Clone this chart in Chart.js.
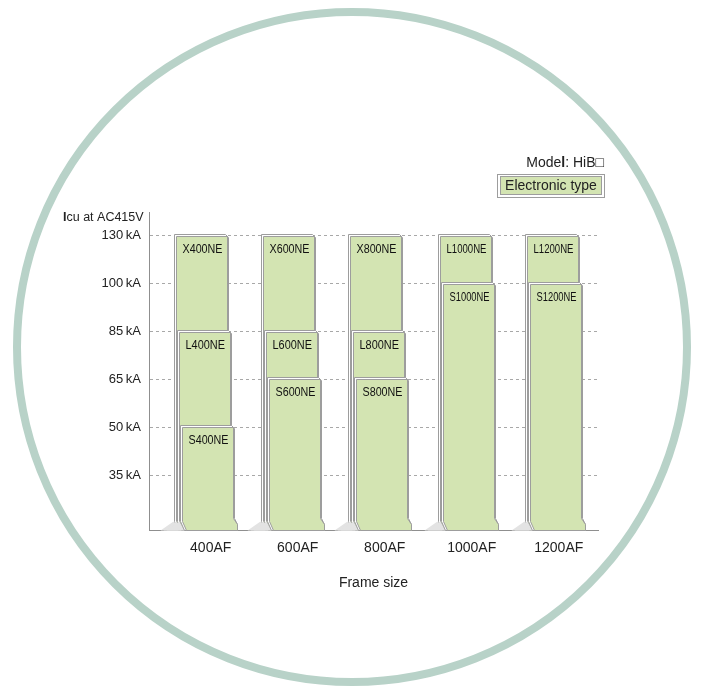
<!DOCTYPE html>
<html>
<head>
<meta charset="utf-8">
<script src="https://cdn.jsdelivr.net/npm/chart.js@4.4.1/dist/chart.umd.min.js"></script>
<style>
    html, body { margin: 0; padding: 0; background: #fff; }
    canvas { display: block; }
</style>
</head>
<body>
<canvas id="myChart" width="702" height="689"></canvas>
<script>
const frameSizes = ['400AF', '600AF', '800AF', '1000AF', '1200AF'];
const icuLevels = [35, 50, 65, 85, 100, 130];
const icuTickLabels = ['35\u2009kA', '50\u2009kA', '65\u2009kA', '85\u2009kA', '100\u2009kA', '130\u2009kA'];

// models per frame size, back card (X) to front card (S)
const xModels = ['X400NE', 'X600NE', 'X800NE', null, null];
const xIcu = [130, 130, 130, null, null];
const lModels = ['L400NE', 'L600NE', 'L800NE', 'L1000NE', 'L1200NE'];
const lIcu = [85, 85, 85, 130, 130];
const sModels = ['S400NE', 'S600NE', 'S800NE', 'S1000NE', 'S1200NE'];
const sIcu = [50, 65, 65, 100, 100];

const FONT = '"Liberation Sans", Arial, Helvetica, sans-serif';
const GREEN = '#d3e4b2';
const EDGE = '#9d9d9d';
const Y_MIN = -0.15;

Chart.defaults.font.family = FONT;
Chart.defaults.color = '#222';

// y axis is not proportional: each Icu level sits on its own step
function toLevel(v) {
    return v == null ? null : icuLevels.indexOf(v) + 1;
}
function points(vals) {
    return vals.map((v, i) => ({x: i, y: toLevel(v)}));
}

function drawCard(c, L, R, T, B, label) {
    c.save();
    // soft shadow at the foot
    c.fillStyle = '#e3e3e3';
    c.beginPath();
    c.moveTo(L - 16, B);
    c.lineTo(L - 3, B - 9);
    c.lineTo(L + 2, B);
    c.closePath();
    c.fill();

    c.lineWidth = 1;
    c.strokeStyle = EDGE;
    // sheet behind the face
    c.fillStyle = '#fff';
    c.beginPath();
    c.moveTo(L - 2, B - 9);
    c.lineTo(L - 2, T - 2);
    c.lineTo(R - 2, T - 2);
    c.lineTo(R + 1, T + 1);
    c.lineTo(R + 1, B - 12);
    c.lineTo(R + 4, B - 6);
    c.lineTo(R + 4, B);
    c.lineTo(L + 2, B);
    c.closePath();
    c.fill();
    c.stroke();

    // green face
    c.fillStyle = GREEN;
    c.beginPath();
    c.moveTo(L, T);
    c.lineTo(R, T);
    c.lineTo(R, B - 12);
    c.lineTo(R + 4, B - 6);
    c.lineTo(R + 4, B);
    c.lineTo(L + 4, B);
    c.lineTo(L, B - 9);
    c.closePath();
    c.fill();
    c.stroke();

    if (label) {
        c.translate(L + 6, T + 16);
        c.scale(0.84, 1);
        c.fillStyle = '#111';
        c.font = '13px ' + FONT;
        c.textAlign = 'left';
        c.textBaseline = 'alphabetic';
        c.fillText(label, 0, 0, (R - L - 11) / 0.84);
    }
    c.restore();
}

function textRuns(c, x, y, size, runs) {
    runs.forEach(function (r) {
        c.font = (r[1] ? 'bold ' : '') + size + 'px ' + FONT;
        c.fillText(r[0], x, y);
        x += c.measureText(r[0]).width;
    });
}
function runsWidth(c, size, runs) {
    let w = 0;
    runs.forEach(function (r) {
        c.font = (r[1] ? 'bold ' : '') + size + 'px ' + FONT;
        w += c.measureText(r[0]).width;
    });
    return w;
}

const cardPlugin = {
    id: 'cards',
    beforeDraw(chart) {
        const c = chart.ctx;
        c.save();
        c.fillStyle = '#fff';
        c.fillRect(0, 0, chart.width, chart.height);
        c.beginPath();
        c.arc(352, 347, 335, 0, Math.PI * 2);
        c.lineWidth = 8;
        c.strokeStyle = '#b8d2c8';
        c.stroke();
        c.restore();
    },
    beforeDatasetDraw(chart, args) {
        const ds = chart.data.datasets[args.index];
        const c = chart.ctx;
        args.meta.data.forEach(function (el, i) {
            if (ds.data[i].y == null) return;
            const p = el.getProps(['x', 'y', 'base', 'width'], true);
            const L = Math.round(p.x - p.width / 2 + ds.shift) + 0.5;
            const R = L + Math.round(p.width);
            const T = Math.round(p.y) + 0.5;
            const B = Math.round(p.base) + 0.5;
            drawCard(c, L, R, T, B, ds.models[i]);
        });
        return false;
    },
    afterDraw(chart) {
        const c = chart.ctx;
        c.save();
        c.fillStyle = '#222';
        c.textBaseline = 'alphabetic';
        c.textAlign = 'left';

        // value axis caption
        textRuns(c, 63, 221, 12.5, [['I', true], ['cu at AC415V', false]]);

        // model note, right aligned
        const model = [['Mode', false], ['l', true], [': HiB', false], ['\u25A1', false]];
        textRuns(c, 604 - runsWidth(c, 14, model), 167, 14, model);

        // legend box
        c.lineWidth = 1;
        c.strokeStyle = EDGE;
        c.fillStyle = '#fff';
        c.fillRect(497.5, 174.5, 107, 23);
        c.strokeRect(497.5, 174.5, 107, 23);
        c.fillStyle = GREEN;
        c.fillRect(500.5, 176.5, 101, 18);
        c.strokeRect(500.5, 176.5, 101, 18);
        c.fillStyle = '#222';
        const leg = [['Electronic type', false]];
        textRuns(c, 551 - runsWidth(c, 14, leg) / 2, 190, 14, leg);
        c.restore();
    }
};

new Chart(document.getElementById('myChart'), {
    type: 'bar',
    data: {
        datasets: [
            {label: 'S', data: points(sIcu), models: sModels, shift: 3},
            {label: 'L', data: points(lIcu), models: lModels, shift: 0},
            {label: 'X', data: points(xIcu), models: xModels, shift: -3}
        ]
    },
    options: {
        responsive: false,
        animation: false,
        events: [],
        grouped: false,
        barThickness: 51,
        base: Y_MIN,
        layout: {padding: {left: 0, right: 104, top: 212, bottom: 89}},
        plugins: {legend: {display: false}, tooltip: {enabled: false}},
        scales: {
            x: {
                type: 'linear',
                min: -0.64,
                max: 4.52,
                offset: false,
                afterBuildTicks(scale) {
                    scale.ticks = frameSizes.map((f, i) => ({value: i}));
                },
                afterFit(scale) {
                    scale.height = 70;
                },
                grid: {display: false, drawTicks: false, offset: false},
                border: {display: true, color: '#8f8f8f'},
                ticks: {
                    callback: (v) => frameSizes[v],
                    padding: 10,
                    labelOffset: 6,
                    autoSkip: false,
                    maxRotation: 0,
                    font: {size: 14}
                },
                title: {display: true, text: 'Frame size', font: {size: 14}, padding: {top: 0, bottom: 8}}
            },
            y: {
                min: Y_MIN,
                max: 6.5,
                afterBuildTicks(scale) {
                    scale.ticks = icuLevels.map((v, i) => ({value: i + 1}));
                },
                afterFit(scale) {
                    scale.width = 149;
                },
                grid: {color: '#a8a8a8', drawTicks: false},
                border: {display: true, color: '#8f8f8f', dash: [3, 3]},
                ticks: {
                    callback: (v) => icuTickLabels[v - 1],
                    padding: 8,
                    font: {size: 13}
                }
            }
        }
    },
    plugins: [cardPlugin]
});
</script>
</body>
</html>
